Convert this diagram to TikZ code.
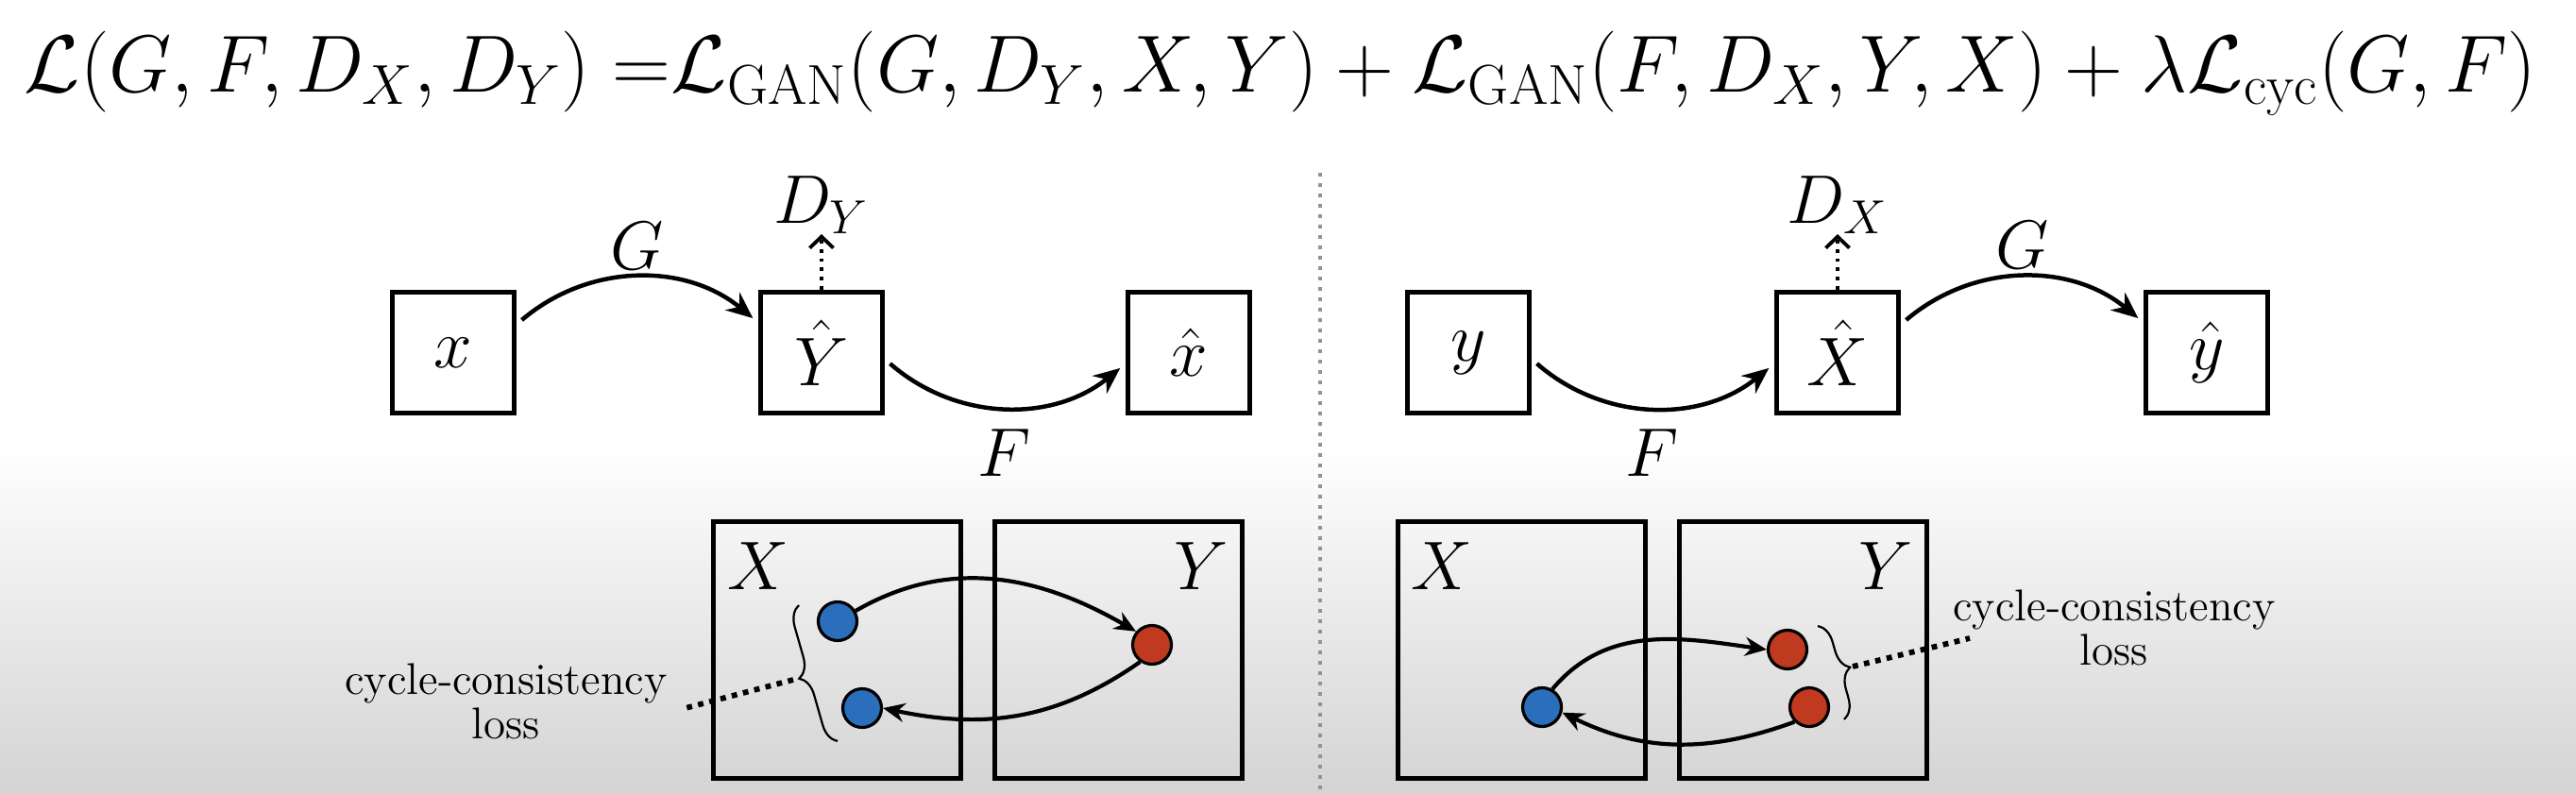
\documentclass[tikz,border=0pt]{standalone}
\usepackage{amsmath}
\usepackage{amssymb}
\usepackage{graphicx}
\usepackage{xcolor}
\usepackage{tikz}
\usetikzlibrary{decorations.pathreplacing,arrows.meta}
\definecolor{ptblue}{RGB}{42,110,188}
\definecolor{ptred}{RGB}{192,58,32}
\newcommand{\fs}[1]{\fontsize{#1}{#1}\selectfont}
\newcommand{\setpair}[2]{%
  \node[setbox] (#2sx) at (#1,-6.88) {};
  \node[setbox] (#2sy) at ({#1+2.98},-6.88) {};
  \node[setlbl] (#2lx) at ({#1-0.84},-6.00) {$X$};
  \node[setlbl] (#2ly) at ({#1+2.98+0.88},-6.00) {$Y$};%
}

\begin{document}
\begin{tikzpicture}[
    imgbox/.style={draw,line width=0.055cm,minimum width=1.29cm,minimum height=1.28cm,inner sep=0pt,font=\fs{21}},
    setbox/.style={draw,line width=0.05cm,minimum width=2.62cm,minimum height=2.72cm,inner sep=0pt},
    setlbl/.style={font=\fs{20}},
    dlbl/.style={anchor=south,inner sep=0pt,font=\fs{20}},
    maplbl/.style={inner sep=2pt,font=\fs{20}},
    maparrow/.style={line width=0.045cm,-{Stealth[length=0.28cm,width=0.24cm]},shorten <=0.07cm,shorten >=0.07cm},
    cycarrow/.style={line width=0.042cm,-{Stealth[length=0.23cm,width=0.2cm]}},
    discline/.style={line width=0.038cm,dash pattern=on 0.038cm off 0.06cm,-{Straight Barb[length=0.12cm,width=0.25cm]}},
    lossline/.style={line width=0.058cm,dash pattern=on 0.058cm off 0.065cm},
    setpt/.style={circle,draw,line width=0.032cm,minimum size=0.41cm,inner sep=0pt},
    lbrace/.style={decorate,decoration={brace,amplitude=0.21cm},line width=0.022cm},
    losslbl/.style={align=center,font=\fontsize{13.4}{13.5}\selectfont}]
  \fill[white] (0,0) rectangle (27.28,-8.40);
  \shade[top color=white,bottom color=black!17] (0,-4.7) rectangle (27.28,-8.40);
  \useasboundingbox (0,0) rectangle (27.28,-8.40);
  \draw[gray!85,line width=0.035cm,dash pattern=on 0.035cm off 0.075cm] (13.98,-1.83) -- (13.98,-8.40);

  \node[font=\fs{25},inner sep=0pt] (loss) at (13.56,-0.78)
    {\scalebox{0.982}{$\mathcal{L}(G,F,D_X,D_Y)\;{=}\mathcal{L}_{\mathrm{GAN}}(G,D_Y,X,Y)+\mathcal{L}_{\mathrm{GAN}}(F,D_X,Y,X)+\lambda\mathcal{L}_{\mathrm{cyc}}(G,F)$}};

  \node[imgbox] (x) at (4.80,-3.735) {$x$};
  \node[imgbox] (Yh) at (8.70,-3.735) {$\hat{Y}$};
  \node[imgbox] (xh) at (12.59,-3.735) {$\hat{x}$};
  \node[imgbox] (y) at (15.55,-3.735) {$y$};
  \node[imgbox] (Xh) at (19.46,-3.735) {$\hat{X}$};
  \node[imgbox] (yh) at (23.37,-3.735) {$\hat{y}$};
  \node[dlbl] (dy) at (8.70,-2.48) {$D_Y$};
  \node[dlbl] (dx) at (19.46,-2.48) {$D_X$};

  \draw[discline] (Yh.north) -- (dy.south);
  \draw[discline] (Xh.north) -- (dx.south);
  \draw[maparrow] ([yshift=0.30cm]x.east) to[bend left=40]
    node[above,maplbl] {$G$} ([yshift=0.32cm]Yh.west);
  \draw[maparrow] ([yshift=-0.07cm]Yh.east) to[bend right=40]
    node[below,maplbl,inner sep=6pt] {$F$} ([yshift=-0.12cm]xh.west);
  \draw[maparrow] ([yshift=-0.07cm]y.east) to[bend right=40]
    node[below,maplbl,inner sep=6pt] {$F$} ([yshift=-0.12cm]Xh.west);
  \draw[maparrow] ([yshift=0.30cm]Xh.east) to[bend left=40]
    node[above,maplbl] {$G$} ([yshift=0.32cm]yh.west);

  \setpair{8.865}{l}
  \setpair{16.11}{r}

  \node[setpt,fill=ptblue] (lb1) at (8.87,-6.58) {};
  \node[setpt,fill=ptblue] (lb2) at (9.13,-7.50) {};
  \node[setpt,fill=ptred] (lr) at (12.20,-6.83) {};
  \draw[cycarrow] (lb1.30) to[out=30,in=150] (lr.140);
  \draw[cycarrow] (lr.235) to[out=215,in=-12] (lb2.east);

  \node[setpt,fill=ptblue] (rb) at (16.33,-7.49) {};
  \node[setpt,fill=ptred] (rr1) at (18.93,-6.88) {};
  \node[setpt,fill=ptred] (rr2) at (19.16,-7.49) {};
  \draw[cycarrow] (rb.60) to[out=50,in=172] (rr1.west);
  \draw[cycarrow] (rr2.225) to[out=200,in=-26] (rb.-15);

  \draw[lbrace] (8.87,-7.85) -- (8.46,-6.41);
  \draw[lbrace] (19.25,-6.63) -- (19.53,-7.62);
  \coordinate (ltip) at (8.40,-7.20);
  \coordinate (lend) at (7.26,-7.50);
  \coordinate (rtip) at (19.62,-7.06);
  \coordinate (rend) at (20.86,-6.76);
  \draw[lossline] (ltip) -- (lend);
  \draw[lossline] (rtip) -- (rend);
  \node[losslbl] (llbl) at (5.36,-7.43) {cycle-consistency\\loss};
  \node[losslbl] (rlbl) at (22.39,-6.65) {cycle-consistency\\loss};
\end{tikzpicture}
\end{document}
